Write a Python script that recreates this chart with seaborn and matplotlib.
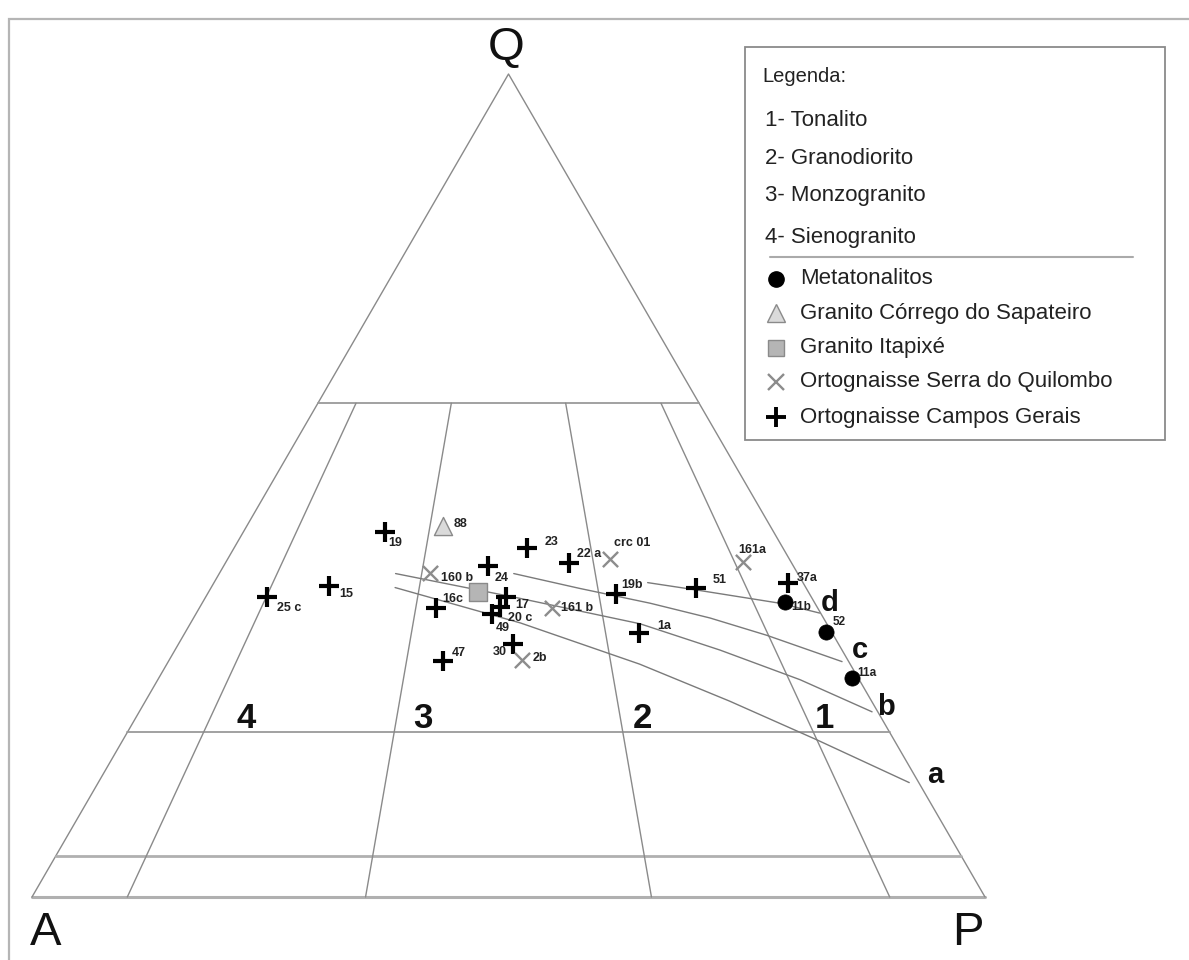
import numpy as np
import pandas as pd
import matplotlib
matplotlib.use("Agg")
import matplotlib.pyplot as plt
from matplotlib.lines import Line2D
from matplotlib.patches import Rectangle
import seaborn as sns

# ---------------- data (Q, A, P in %) ----------------
meta_names = ["11b", "52", "11a"]
meta_Q = [35.8, 32.2, 26.6]
meta_A = [3.1, 0.6, 0.7]
meta_P = [61.1, 67.2, 72.7]

sap_names = ["88"]
sap_Q = [45.1]
sap_A = [34.3]
sap_P = [20.6]

ita_Q = [37.1]
ita_A = [34.7]
ita_P = [28.2]

quil_names = ["crc 01", "160 b", "161 b", "2b", "161a"]
quil_Q = [41.1, 39.4, 35.1, 28.8, 40.7]
quil_A = [18.8, 38.5, 27.9, 34.2, 5.0]
quil_P = [40.1, 22.1, 37.0, 37.0, 54.3]

cg_names = ["19", "25 c", "15", "23", "22 a", "24", "16c", "17", "20 c", "49",
            "47", "30", "19b", "1a", "51", "37a"]
cg_Q = [44.4, 36.5, 37.8, 42.4, 40.6, 40.2, 35.1, 36.5, 35.2, 34.4,
        28.7, 30.7, 36.8, 32.1, 37.6, 38.2]
cg_A = [40.8, 57.1, 49.9, 26.9, 23.4, 32.1, 40.1, 32.0, 33.3, 34.5,
        42.5, 34.2, 20.3, 20.3, 11.5, 1.6]
cg_P = [14.8, 6.4, 12.3, 30.7, 36.0, 27.7, 24.8, 31.5, 31.5, 31.1,
        28.8, 35.1, 42.9, 47.6, 50.9, 60.2]

# trend curves a-d (Q, P in %)
curve_names = ["a", "b", "c", "d"]
curve_Q = [[37.6, 33.3, 28.3, 23.8, 19.1, 13.9],
           [39.3, 36.3, 33.2, 30.0, 26.4, 22.5],
           [39.3, 37.5, 35.7, 33.9, 31.8, 28.6],
           [38.2, 37.3, 35.7, 34.5]]
curve_P = [[19.3, 34.6, 49.6, 61.3, 72.8, 85.1],
           [18.5, 33.0, 47.2, 57.2, 67.4, 76.9],
           [30.9, 38.7, 47.0, 54.2, 61.2, 70.7],
           [45.5, 51.1, 60.6, 65.4]]

# QAP field boundaries
q_levels = [60, 20, 5]
p_ratios = [10, 35, 65, 90]
field_labels = ["4", "3", "2", "1"]
field_label_P_ratio = [14.8, 38.5, 67.9, 92.4]

legend_fields = ["1- Tonalito", "2- Granodiorito", "3- Monzogranito", "4- Sienogranito"]
legend_groups = ["Metatonalitos", "Granito Córrego do Sapateiro", "Granito Itapixé",
                 "Ortognaisse Serra do Quilombo", "Ortognaisse Campos Gerais"]

# ---------------- styling ----------------
sns.set_theme(style="white")
plt.rcParams["font.family"] = ["Liberation Sans", "DejaVu Sans"]

W, H = 1189, 960
fig = plt.figure(figsize=(W / 100, H / 100), dpi=100)
ax = fig.add_axes([0, 0, 1, 1])
ax.set_xlim(-32 / 953, (W - 32) / 953)
ax.set_ylim((897 - H) / 823, 897 / 823)
ax.axis("off")


def tern(Q, P):
    Q = np.asarray(Q, dtype=float) / 100.0
    P = np.asarray(P, dtype=float) / 100.0
    return P + Q / 2.0, Q


def fpx(px, py):
    return px / W, 1 - py / H


# outer frame
fig.patches.append(Rectangle(fpx(9, 1000), 1.2, (1000 - 19) / H, transform=fig.transFigure,
                             fill=False, edgecolor="#b5b5b5", lw=1.6, zorder=0))

gcol = "#8a8a8a"
# triangle outline
x, y = tern([0, 0, 100, 0], [0, 100, 0, 0])
ax.plot(x[:2], y[:2], color="#b0b0b0", lw=2.2, zorder=1)
ax.plot(x[1:], y[1:], color=gcol, lw=1.0, zorder=1)
# horizontal Q lines
for q in q_levels:
    x, y = tern([q, q], [0, 100 - q])
    if q == 5:
        ax.plot(x, y, color="#b0b0b0", lw=2.0, zorder=1)
    else:
        ax.plot(x, y, color="#9a9a9a", lw=1.3, zorder=1)
# ratio lines
for r in p_ratios:
    x, y = tern([0, 60], [r, 40 * r / 100])
    ax.plot(x, y, color=gcol, lw=1.0, zorder=1)

# trend curves
for nm, qs, ps in zip(curve_names, curve_Q, curve_P):
    x, y = tern(qs, ps)
    ax.plot(x, y, color="#7a7a7a", lw=1.0, zorder=2, solid_joinstyle="round")

# ---------------- points ----------------
def scatter(Q, P, marker, s, color, edge, lw):
    x, y = tern(Q, P)
    df = pd.DataFrame({"x": x, "y": y})
    sns.scatterplot(data=df, x="x", y="y", ax=ax, marker=marker, s=s, color=color,
                    edgecolor=edge, linewidth=lw, legend=False, zorder=5)

scatter(cg_Q, cg_P, "+", 210, "black", "black", 3.0)
scatter(quil_Q, quil_P, "x", 120, "#8c8c8c", "#8c8c8c", 1.7)
scatter(meta_Q, meta_P, "o", 120, "black", "black", 0.5)
scatter(sap_Q, sap_P, "^", 170, "#dadada", "#8a8a8a", 1.0)
scatter(ita_Q, ita_P, "s", 150, "#b5b5b5", "#8a8a8a", 1.0)

# point labels: offsets in pixels (dx right, dy down), alignment
cg_off = [(4, 11, "left"), (10, 11, "left"), (10, 8, "left"), (18, -6, "left"),
          (8, -9, "left"), (7, 12, "left"), (7, -9, "left"), (9, 8, "left"),
          (8, 11, "left"), (3, 14, "left"), (9, -8, "left"), (-6, 8, "right"),
          (5, -9, "left"), (19, -7, "left"), (16, -8, "left"), (9, -5, "left")]
quil_off = [(4, -16, "left"), (11, 5, "left"), (9, 0, "left"), (11, -2, "left"), (-5, -12, "left")]
meta_off = [(6, 5, "left"), (7, -10, "left"), (6, -5, "left")]
sap_off = [(10, -2, "left")]


def labels(names, Q, P, offs, fs):
    x, y = tern(Q, P)
    for nm, xi, yi, (dx, dy, ha) in zip(names, x, y, offs):
        ax.annotate(nm, (xi, yi), xytext=(dx, -dy), textcoords="offset pixels",
                    ha=ha, va="center", fontsize=fs, fontweight="bold", color="#222222",
                    zorder=6)

labels(cg_names, cg_Q, cg_P, cg_off, 9)
labels(quil_names, quil_Q, quil_P, quil_off, 9)
labels(meta_names, meta_Q, meta_P, meta_off, 8.5)
labels(sap_names, sap_Q, sap_P, sap_off, 9)

# field numbers
for lab, pr in zip(field_labels, field_label_P_ratio):
    qv = 21.7
    x, y = tern(qv, pr * (100 - qv) / 100)
    ax.text(x, y, lab, ha="center", va="center", fontsize=25, fontweight="bold", color="#111")

# curve letters
curve_lab_pos = {"d": (830, 603), "c": (860, 650), "b": (886, 707), "a": (935, 775)}
for k, (px, py) in curve_lab_pos.items():
    fig.text(*fpx(px, py), k, ha="center", va="center", fontsize=21, fontweight="bold",
             color="#111")

# vertex labels
for t, (px, py) in {"Q": (506, 48), "A": (46, 933), "P": (968, 933)}.items():
    fig.text(*fpx(px, py), t, ha="center", va="center", fontsize=34, color="#111")

# ---------------- legend box ----------------
fig.patches.append(Rectangle(fpx(745, 440), (1165 - 745) / W, (440 - 47) / H,
                             transform=fig.transFigure, fill=True, facecolor="white",
                             edgecolor="#8a8a8a", lw=1.3, zorder=3))
fig.text(*fpx(762, 76), "Legenda:", ha="left", va="center", fontsize=14.5, color="#222", zorder=4)
for txt, py in zip(legend_fields, [121, 159, 196, 237]):
    fig.text(*fpx(765, py), txt, ha="left", va="center", fontsize=16, color="#222", zorder=4)
fig.add_artist(Line2D([770 / W, 1133 / W], [1 - 257 / H, 1 - 257 / H], color="#aaaaaa",
                      lw=1.5, zorder=5))
leg_style = [("o", "black", "black", 11, 1.0), ("^", "#dadada", "#8a8a8a", 13, 1.0),
             ("s", "#b5b5b5", "#8a8a8a", 11, 1.0), ("x", "#8c8c8c", "#8c8c8c", 11, 1.7),
             ("+", "black", "black", 14, 2.8)]
for txt, py, (m, fc, ec, ms, lw) in zip(legend_groups, [279, 313, 348, 382, 417], leg_style):
    fig.add_artist(Line2D([776 / W], [1 - py / H], marker=m, markersize=ms, markerfacecolor=fc,
                          markeredgecolor=ec, markeredgewidth=lw, color=ec, linestyle="none",
                          zorder=5))
    fig.text(*fpx(800, py), txt, ha="left", va="center", fontsize=16, color="#222", zorder=4)

fig.savefig("out.png", dpi=100)
